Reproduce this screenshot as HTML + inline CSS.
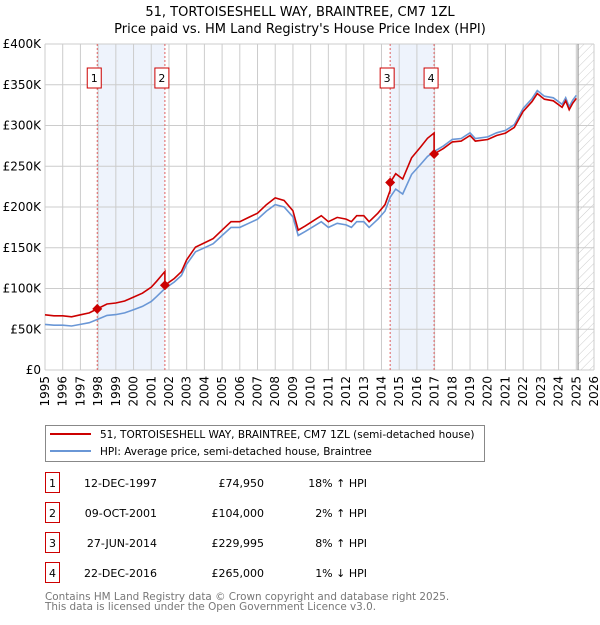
<!DOCTYPE html>
<html><head><meta charset="utf-8"><style>
body{margin:0;background:#fff;font-family:"Liberation Sans","DejaVu Sans",sans-serif;}
svg text{font-family:"DejaVu Sans","Liberation Sans",sans-serif;}
</style></head><body>
<svg id="c" width="600" height="620" xmlns="http://www.w3.org/2000/svg">
<defs><pattern id="hatch" width="6" height="6" patternUnits="userSpaceOnUse" patternTransform="rotate(45)"><line x1="0" y1="0" x2="0" y2="6" stroke="#ccc" stroke-width="1"/></pattern></defs>
<text x="300" y="16" text-anchor="middle" font-size="13">51, TORTOISESHELL WAY, BRAINTREE, CM7 1ZL</text>
<text x="300" y="33" text-anchor="middle" font-size="13">Price paid vs. HM Land Registry's House Price Index (HPI)</text>
<g id="grid"></g><g id="marks"></g>
</svg>
<script>
const years=[];for(let y=1995;y<=2026;y++)years.push(y);
const yTicks=[0,50000,100000,150000,200000,250000,300000,350000,400000];
const yTickLabels=["£0","£50K","£100K","£150K","£200K","£250K","£300K","£350K","£400K"];
const hpiT=[1995,1995.5,1996,1996.5,1997,1997.5,1997.95,1998.5,1999,1999.5,2000,2000.5,2001,2001.3,2001.77,2002.3,2002.7,2003,2003.5,2004,2004.5,2005,2005.5,2006,2006.5,2007,2007.5,2008,2008.5,2009,2009.3,2009.7,2010.3,2010.6,2011,2011.5,2012,2012.3,2012.6,2013,2013.3,2013.8,2014.2,2014.49,2014.8,2015.2,2015.7,2016.2,2016.6,2016.97,2017.5,2018,2018.5,2019,2019.3,2020,2020.5,2021,2021.5,2022,2022.5,2022.8,2023.2,2023.7,2024.2,2024.4,2024.6,2024.8,2025.0];
const hpiV=[56,55,55,54,56,58,62,67,68,70,74,78,84,90,100,108,116,130,145,150,155,165,175,175,180,185,195,203,200,188,165,170,178,182,175,180,178,175,182,182,175,185,195,212,222,216,240,252,262,268,275,283,284,291,284,286,291,294,301,321,333,343,336,334,326,334,323,331,337];
const saleT=[1997.95,2001.77,2014.49,2016.97];
const saleP=[74950,104000,229995,265000];
const saleLabels=["1","2","3","4"];
const X0=45,X1=594,Y0=370,Y1=44;
const xS=t=>X0+(t-1995)*(X1-X0)/31;
const yS=v=>Y0-v*(Y0-Y1)/400000;
const NS="http://www.w3.org/2000/svg";
function mk(tag,attrs,parent){const e=document.createElementNS(NS,tag);for(const k in attrs)e.setAttribute(k,attrs[k]);parent.appendChild(e);return e;}
const grid=document.getElementById('grid'),marks=document.getElementById('marks');
function hpiAt(t){for(let i=0;i<hpiT.length-1;i++){if(t>=hpiT[i]&&t<=hpiT[i+1]){return hpiV[i]+(hpiV[i+1]-hpiV[i])*(t-hpiT[i])/(hpiT[i+1]-hpiT[i]);}}return hpiV[hpiV.length-1];}
[[0,1],[2,3]].forEach(p=>{const r=mk('rect',{x:xS(saleT[p[0]]),y:Y1,width:xS(saleT[p[1]])-xS(saleT[p[0]]),height:Y0-Y1,fill:'#eef3fc'},grid);

});
const hx=xS(2025.1);
const h=mk('rect',{x:hx,y:Y1,width:X1-hx,height:Y0-Y1,fill:'url(#hatch)'},grid);


years.forEach(y=>{const x=xS(y);const l=mk('line',{x1:x,x2:x,y1:Y1,y2:Y0,stroke:'#ccc','stroke-width':1},grid);


const t=mk('text',{x:0,y:0,'font-size':12,'text-anchor':'end',transform:`translate(${x+4},${Y0+6}) rotate(-90)`},grid);t.textContent=y;

});
yTicks.forEach((v,i)=>{const y=yS(v);const l=mk('line',{x1:X0,x2:X1,y1:y,y2:y,stroke:'#ccc','stroke-width':1},grid);


const t=mk('text',{x:X0-4,y:y+4,'font-size':12,'text-anchor':'end'},grid);t.textContent=yTickLabels[i];

});
const vl=mk('line',{x1:hx,x2:hx,y1:Y1,y2:Y0,stroke:'#888','stroke-width':1},grid);


saleT.forEach((t,i)=>{const x=xS(t);const l=mk('line',{x1:x,x2:x,y1:Y1,y2:Y0,stroke:'#e06060','stroke-width':1,'stroke-dasharray':'2,2'},marks);


const r=mk('rect',{x:x-10,y:68,width:14,height:20,fill:'#fff',stroke:'#c00','stroke-width':1},marks);


const tx=mk('text',{x:x-3,y:82,'font-size':11,'text-anchor':'middle'},marks);tx.textContent=saleLabels[i];

});
let d='';hpiT.forEach((t,i)=>{d+=(i?'L':'M')+xS(t).toFixed(1)+','+yS(hpiV[i]*1000).toFixed(1);});
const hp=mk('path',{d:d,fill:'none',stroke:'#6a97d6','stroke-width':1.6},marks);


const ratios=saleT.map((t,i)=>saleP[i]/(hpiAt(t)*1000));
function ratioAt(t){let k=0;for(let i=0;i<saleT.length;i++)if(t>=saleT[i])k=i;return ratios[k];}
const pts=[];hpiT.forEach((t,i)=>{
  saleT.forEach((s,j)=>{if(j>0&&s>(i?hpiT[i-1]:0)&&s<=t){pts.push([s,hpiAt(s)*1000*ratios[j-1]]);pts.push([s,saleP[j]]);}});
  pts.push([t,hpiV[i]*1000*ratioAt(t)]);});
d='';pts.forEach((p,i)=>{d+=(i?'L':'M')+xS(p[0]).toFixed(1)+','+yS(p[1]).toFixed(1);});
const pp=mk('path',{d:d,fill:'none',stroke:'#cc0000','stroke-width':1.6},marks);


saleT.forEach((t,i)=>{const x=xS(t),y=yS(saleP[i]);const p=mk('path',{d:`M${x},${y-5}L${x+5},${y}L${x},${y+5}L${x-5},${y}Z`,fill:'#cc0000'},marks);

});
const lg=mk('rect',{x:45.5,y:425.5,width:439,height:36,fill:'#fff',stroke:'#888'},marks);


[['#cc0000','51, TORTOISESHELL WAY, BRAINTREE, CM7 1ZL (semi-detached house)',434],['#6a97d6','HPI: Average price, semi-detached house, Braintree',451]].forEach((e,i)=>{
const l=mk('line',{x1:50,x2:91,y1:e[2],y2:e[2],stroke:e[0],'stroke-width':2},marks);


const t=mk('text',{x:100,y:e[2]+4,'font-size':10.5},marks);t.textContent=e[1];

});
const dates=["12-DEC-1997","09-OCT-2001","27-JUN-2014","22-DEC-2016"];
const prices=["£74,950","£104,000","£229,995","£265,000"];
const rel=["18% \u2191 HPI","2% \u2191 HPI","8% \u2191 HPI","1% \u2193 HPI"];
dates.forEach((dt,i)=>{const y=483+i*30;
const b=mk('rect',{x:45.5,y:y-10.5,width:14,height:20,fill:'#fff',stroke:'#c00'},marks);


const n=mk('text',{x:52.5,y:y+4,'font-size':11,'text-anchor':'middle'},marks);n.textContent=saleLabels[i];


[[157,dt,'table-date'],[264,prices[i],'table-price'],[367,rel[i],'table-hpi-diff']].forEach(c=>{
const t=mk('text',{x:c[0],y:y+4,'font-size':11,'text-anchor':'end'},marks);t.textContent=c[1];

});});
[['Contains HM Land Registry data © Crown copyright and database right 2025.',600],['This data is licensed under the Open Government Licence v3.0.',610]].forEach(f=>{
const t=mk('text',{x:45,y:f[1],'font-size':10.4,fill:'#777'},marks);t.textContent=f[0];

});
</script>
</body></html>
